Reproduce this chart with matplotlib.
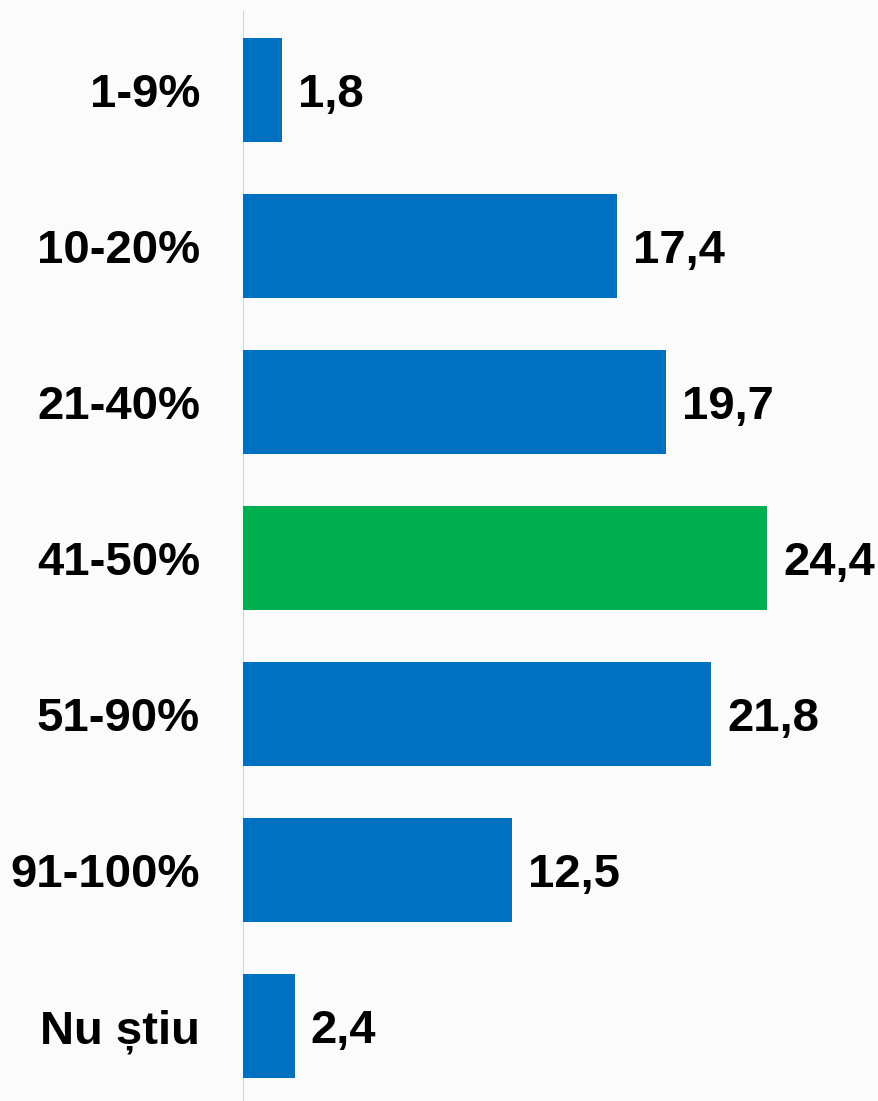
import matplotlib.pyplot as plt

categories = ['1-9%', '10-20%', '21-40%', '41-50%', '51-90%', '91-100%', 'Nu știu']
values = [1.8, 17.4, 19.7, 24.4, 21.8, 12.5, 2.4]
value_labels = ['1,8', '17,4', '19,7', '24,4', '21,8', '12,5', '2,4']
highlight = '41-50%'

blue = '#0070C0'
green = '#00B050'

plt.rcParams['font.family'] = ['Liberation Sans', 'DejaVu Sans']

fig = plt.figure(figsize=(8.79, 11.01), dpi=100)
fig.patch.set_facecolor('#fbfbfb')
ax = fig.add_axes([243 / 879, 0, 1 - 243 / 879, 1])
ax.set_facecolor('none')

ypos = list(range(len(categories)))
colors = [green if c == highlight else blue for c in categories]
ax.barh(ypos, values, height=0.67, color=colors, zorder=3)

for y, v, lab in zip(ypos, values, value_labels):
    ax.text(v + 0.75, y, lab, va='center_baseline', ha='left', fontsize=34,
            fontweight='bold', color='black', zorder=4)

ax.set_xlim(0, 29.6)
ax.set_ylim(6 + 75 / 156, -90 / 156)
ax.set_yticks(ypos)
ax.set_yticklabels(categories, fontsize=34, fontweight='bold', va='center_baseline')
ax.tick_params(axis='y', length=0, pad=31)
ax.set_xticks([])
for s in ['top', 'right', 'bottom', 'left']:
    ax.spines[s].set_visible(False)

ax.axvline(0, ymin=0, ymax=1 - 12 / 1101, color='#d4d4d4', linewidth=1.5, zorder=2)

fig.savefig('out.png', dpi=100, facecolor=fig.get_facecolor())
